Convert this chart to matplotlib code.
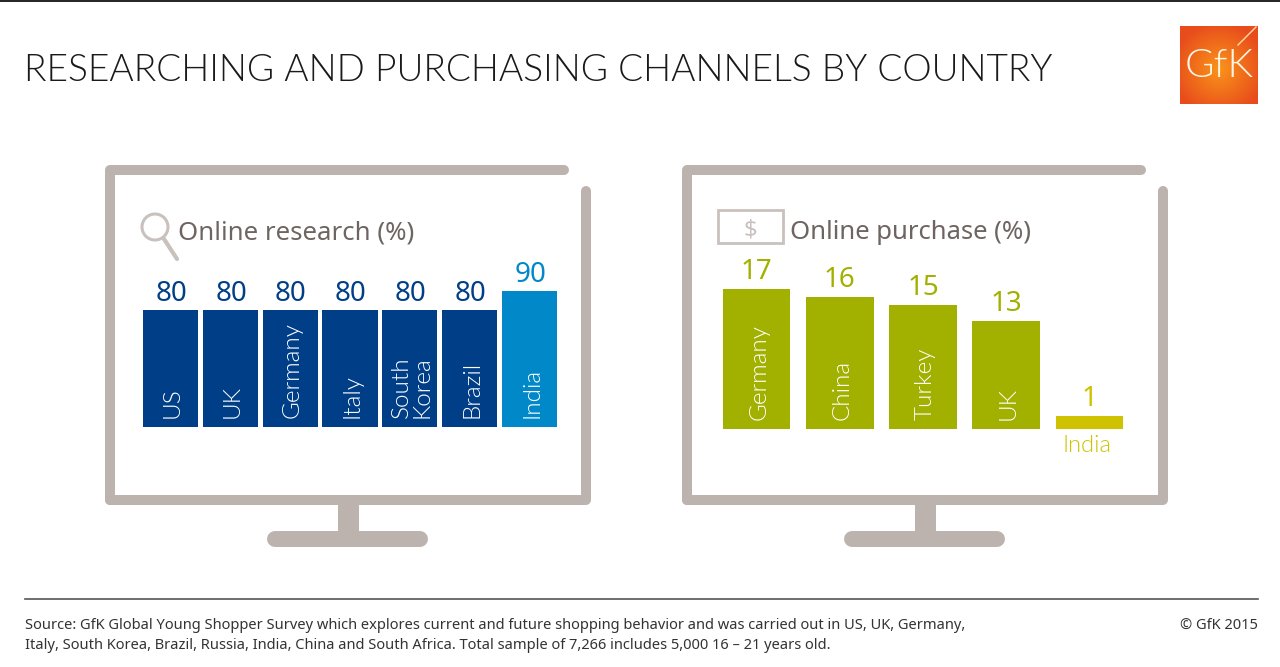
"""Researching and purchasing channels by country, GfK monitor-style bar charts."""

import matplotlib

matplotlib.use("Agg")

import matplotlib.pyplot as plt
import numpy as np
from matplotlib.patches import Circle, Rectangle

W, H = 1280, 667

research_countries = ["US", "UK", "Germany", "Italy", "South\nKorea", "Brazil", "India"]
research_values = [80, 80, 80, 80, 80, 80, 90]
purchase_countries = ["Germany", "China", "Turkey", "UK", "India"]
purchase_values = [17, 16, 15, 13, 1]

title = "RESEARCHING AND PURCHASING CHANNELS BY COUNTRY"
source_lines = [
    "Source: GfK Global Young Shopper Survey which explores current and future shopping behavior and was carried out in US, UK, Germany,",
    "Italy, South Korea, Brazil, Russia, India, China and South Africa. Total sample of 7,266 includes 5,000 16 \u2013 21 years old.",
]

NAVY = "#003f87"
BLUE = "#0088c9"
GREEN = "#a2b000"
YELLOW = "#cfc200"
FRAME = "#bdb3ae"
ICON = "#c9c1bd"
HEADING = "#6f6560"
FONT = "Noto Sans"
THIN_FONT = "Lato"
THIN_WEIGHT = 300

plt.rcParams["font.family"] = [FONT, "DejaVu Sans"]

fig = plt.figure(figsize=(W / 100, H / 100), dpi=100, facecolor="white")


def px_axes(left, top, right, bottom, **kwargs):
    """Axes placed by pixel box, measured from the top left of the figure."""
    return fig.add_axes(
        [left / W, 1 - bottom / H, (right - left) / W, (bottom - top) / H], **kwargs
    )


# Overlay in pixel coordinates for all the decoration
canvas = px_axes(0, 0, W, H)
canvas.set_xlim(0, W)
canvas.set_ylim(H, 0)
canvas.axis("off")


def draw_monitor(x0):
    lw = 7.2
    line = dict(color=FRAME, lw=lw, solid_capstyle="round", solid_joinstyle="round")
    canvas.plot([x0 + 5, x0 + 5, x0 + 459], [500, 170, 170], **line)
    canvas.plot([x0 + 5, x0 + 481, x0 + 481], [500, 500, 191], **line)
    canvas.add_patch(Rectangle((x0 + 233, 505), 21, 28, color=FRAME, lw=0))
    canvas.plot([x0 + 170, x0 + 315], [538.5, 538.5], color=FRAME, lw=11.5, solid_capstyle="round")


draw_monitor(105)
draw_monitor(682)

# Top edge and footer rule
canvas.plot([0, W], [0.5, 0.5], color="#222222", lw=1.4)
canvas.plot([25, 1258], [599, 599], color="#555555", lw=1.2)

canvas.text(
    24, 81, title, family=THIN_FONT, fontsize=26.75, fontweight=THIN_WEIGHT,
    color="#1a1a1a", va="baseline",
)

# Section headings with their small icons
canvas.text(178, 239, "Online research (%)", fontsize=18.6, color=HEADING, va="baseline")
canvas.text(790, 239, "Online purchase (%)", fontsize=18.5, color=HEADING, va="baseline")
canvas.add_patch(Circle((155, 227), 13, fill=False, ec=ICON, lw=2.2))
canvas.plot([164, 177], [239, 259], color=ICON, lw=3.0, solid_capstyle="round")
canvas.add_patch(Rectangle((718, 210), 65, 33, fill=False, ec=ICON, lw=2.0))
canvas.text(750, 230, "$", fontsize=17, color=ICON, ha="center", va="center")

# Footer
for y, line_text in zip([629, 649], source_lines):
    canvas.text(25, y, line_text, fontsize=10.55, color="#333333", va="baseline")
canvas.text(1258, 629, "\u00a9 GfK 2015", fontsize=10.55, color="#333333", ha="right", va="baseline")

# GfK logo
logo = px_axes(1180, 26, 1258, 104)
yy, xx = np.mgrid[-1:1:120j, -1:1:120j]
glow = np.clip(1 - np.sqrt(xx**2 + (yy - 0.1) ** 2) / 1.2, 0, 1)[..., None]
logo.imshow(
    np.array([0.91, 0.30, 0.11]) * (1 - glow) + np.array([0.98, 0.58, 0.10]) * glow,
    extent=(0, 78, 78, 0),
    aspect="auto",
)
logo.plot([58, 76], [19, 1], color="#ffd9a8", lw=1.0)
logo.text(
    39, 40, "GfK", family=THIN_FONT, fontsize=29, fontweight=THIN_WEIGHT,
    color="#fff6e6", ha="center", va="center",
)
logo.set_xlim(0, 78)
logo.set_ylim(78, 0)
logo.axis("off")

# Research bars, the baseline sits above zero as in the original graphic
left_base = 18.7
ax_left = px_axes(143, 250, 557, 426.5)
ax_left.patch.set_alpha(0)
colors_left = [NAVY] * 6 + [BLUE]
x = np.arange(len(research_values))
ax_left.bar(x, research_values, width=0.92, color=colors_left)
ax_left.set_xlim(-0.46, 6.46)
ax_left.set_ylim(left_base, left_base + 176.5 / 1.9)
ax_left.axis("off")
for i, (name, val, col) in enumerate(zip(research_countries, research_values, colors_left)):
    ax_left.annotate(
        str(val), (i, val), xytext=(0.5, 6.5), textcoords="offset points",
        ha="center", va="baseline", fontsize=20, color=col,
    )
    ax_left.annotate(
        name, (i, left_base), xytext=(1.5, 6), textcoords="offset points",
        ha="center", va="bottom", rotation=90, fontsize=17.5,
        family=THIN_FONT, fontweight=THIN_WEIGHT, color="white", linespacing=0.95,
    )

# Purchase bars, baseline just under zero so the 1 stays visible
right_base = -0.58
ax_right = px_axes(723, 250, 1123, 428.5)
ax_right.patch.set_alpha(0)
colors_right = [GREEN] * 4 + [YELLOW]
x = np.arange(len(purchase_values))
ax_right.bar(
    x, [v - right_base for v in purchase_values], bottom=right_base, width=0.81, color=colors_right
)
ax_right.set_xlim(-0.405, 4.405)
ax_right.set_ylim(right_base, right_base + 178.5 / 7.94)
ax_right.axis("off")
for i, (name, val, col) in enumerate(zip(purchase_countries, purchase_values, colors_right)):
    ax_right.annotate(
        str(val), (i, val), xytext=(0, 7), textcoords="offset points",
        ha="center", va="baseline", fontsize=20, color=col,
    )
    if name == "India":
        # Bar is too short to hold its label
        ax_right.annotate(
            name, (i, right_base), xytext=(-2, -17), textcoords="offset points",
            ha="center", va="baseline", fontsize=17, family=THIN_FONT, fontweight=THIN_WEIGHT,
            color=col, annotation_clip=False,
        )
    else:
        ax_right.annotate(
            name, (i, right_base), xytext=(1.5, 6), textcoords="offset points",
            ha="center", va="bottom", rotation=90, fontsize=17.5,
            family=THIN_FONT, fontweight=THIN_WEIGHT, color="white",
        )

fig.savefig("out.png", dpi=100)
